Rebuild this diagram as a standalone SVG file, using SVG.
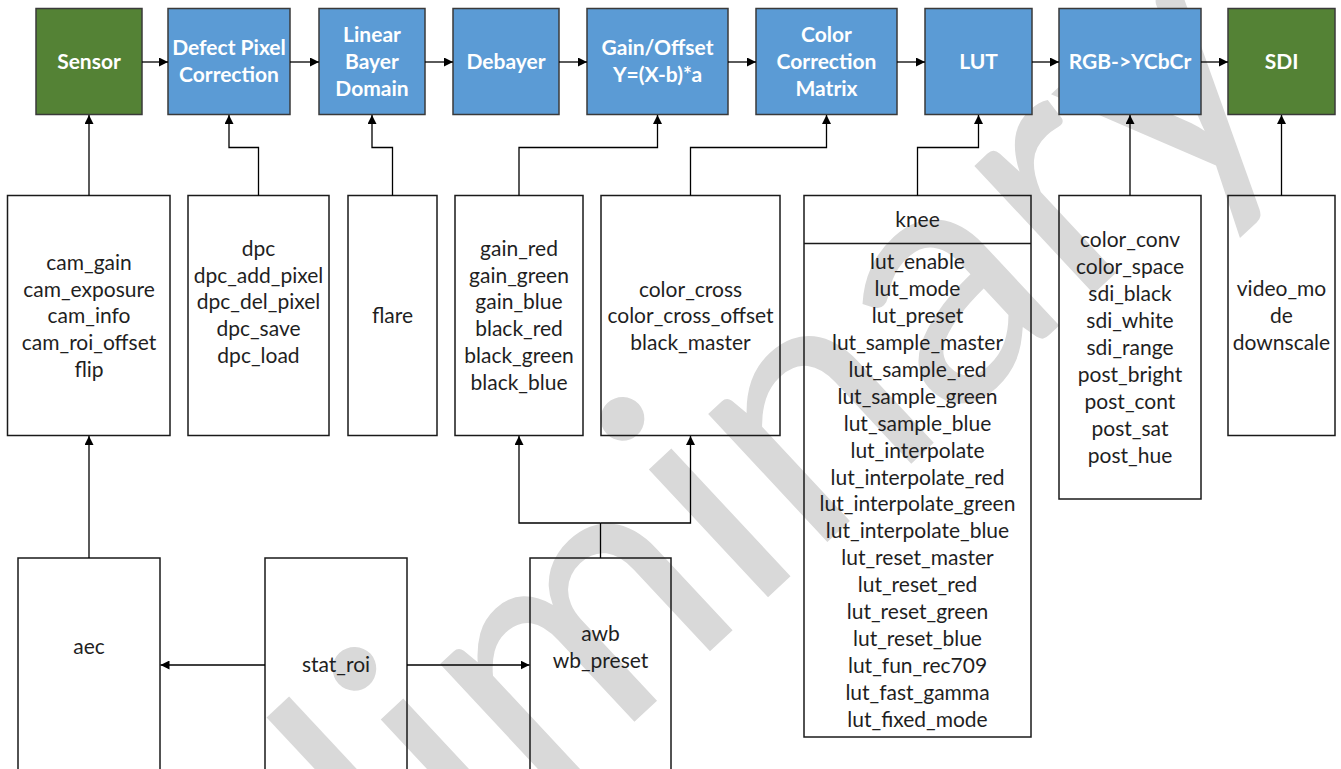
<svg xmlns="http://www.w3.org/2000/svg" width="1341" height="769" viewBox="0 0 1341 769">
<defs>
<marker id="ah" viewBox="0 0 10 10" refX="10" refY="5" markerWidth="9" markerHeight="9" markerUnits="userSpaceOnUse" orient="auto"><path d="M0,0 L10,5 L0,10 z" fill="#000"/></marker>
<style>
.blue{fill:#5b9bd5;stroke:#3a3a3a;stroke-width:1.5}
.green{fill:#548235;stroke:#3a3a3a;stroke-width:1.5}
.box{fill:none;stroke:#1a1a1a;stroke-width:1.5}
.hd{font-family:Lato,"Open Sans",sans-serif;font-weight:bold;font-size:21px;fill:#fff;text-anchor:middle}
.tx{font-family:Lato,"Open Sans",sans-serif;font-size:21px;fill:#1f1f1f;text-anchor:middle}
.wm{font-family:Lato,"Open Sans",sans-serif;font-size:345px;fill:#d9d9d9;text-anchor:middle}
.cn{fill:none;stroke:#000;stroke-width:1.3;marker-end:url(#ah)}
.ln{fill:none;stroke:#000;stroke-width:1.3}
</style>
</defs>
<rect width="1341" height="769" fill="#fff"/>
<text class="wm" transform="translate(675,684) rotate(-43)">Preliminary</text>

<g id="sensor"><rect class="green" x="36" y="8.5" width="106" height="106"/><text class="hd" x="89" y="69">Sensor</text></g>
<g id="dpc_block"><rect class="blue" x="168" y="8.5" width="122" height="106"/><text class="hd" x="229" y="55">Defect Pixel</text><text class="hd" x="229" y="82">Correction</text></g>
<g id="linear"><rect class="blue" x="319" y="8.5" width="106" height="106"/><text class="hd" x="372" y="42">Linear</text><text class="hd" x="372" y="69">Bayer</text><text class="hd" x="372" y="96">Domain</text></g>
<g id="debayer"><rect class="blue" x="453" y="8.5" width="106" height="106"/><text class="hd" x="506" y="69">Debayer</text></g>
<g id="gainoffset"><rect class="blue" x="587" y="8.5" width="141" height="106"/><text class="hd" x="657.5" y="55">Gain/Offset</text><text class="hd" x="657.5" y="82">Y=(X-b)*a</text></g>
<g id="ccm"><rect class="blue" x="756" y="8.5" width="141" height="106"/><text class="hd" x="826.5" y="42">Color</text><text class="hd" x="826.5" y="69">Correction</text><text class="hd" x="826.5" y="96">Matrix</text></g>
<g id="lut"><rect class="blue" x="925" y="8.5" width="107" height="106"/><text class="hd" x="978.5" y="69">LUT</text></g>
<g id="rgb2ycbcr"><rect class="blue" x="1059" y="8.5" width="142" height="106"/><text class="hd" x="1130" y="69">RGB-&gt;YCbCr</text></g>
<g id="sdi"><rect class="green" x="1228" y="8.5" width="107" height="106"/><text class="hd" x="1281.5" y="69">SDI</text></g>

<g id="cam_params"><rect class="box" x="7.5" y="195.5" width="162.5" height="240"/>
<text class="tx" x="89" y="270">cam_gain</text><text class="tx" x="89" y="296.5">cam_exposure</text><text class="tx" x="89" y="323">cam_info</text><text class="tx" x="89" y="350">cam_roi_offset</text><text class="tx" x="89" y="376.5">flip</text></g>
<g id="dpc_params"><rect class="box" x="188" y="195.5" width="141" height="240"/>
<text class="tx" x="258.5" y="256">dpc</text><text class="tx" x="258.5" y="282.5">dpc_add_pixel</text><text class="tx" x="258.5" y="309">dpc_del_pixel</text><text class="tx" x="258.5" y="336">dpc_save</text><text class="tx" x="258.5" y="363">dpc_load</text></g>
<g id="flare_params"><rect class="box" x="348" y="195.5" width="89" height="240"/>
<text class="tx" x="392.5" y="323">flare</text></g>
<g id="gain_params"><rect class="box" x="455" y="195.5" width="128" height="240"/>
<text class="tx" x="519" y="256">gain_red</text><text class="tx" x="519" y="282.5">gain_green</text><text class="tx" x="519" y="309">gain_blue</text><text class="tx" x="519" y="336">black_red</text><text class="tx" x="519" y="363">black_green</text><text class="tx" x="519" y="390">black_blue</text></g>
<g id="ccm_params"><rect class="box" x="601" y="195.5" width="179" height="240"/>
<text class="tx" x="690.5" y="296.5">color_cross</text><text class="tx" x="690.5" y="323">color_cross_offset</text><text class="tx" x="690.5" y="350">black_master</text></g>
<g id="knee_params"><rect class="box" x="804" y="195.5" width="227" height="541.5"/><line x1="804" y1="243.5" x2="1031" y2="243.5" stroke="#1a1a1a" stroke-width="1.5"/>
<text class="tx" x="917.5" y="227">knee</text>
<text class="tx" x="917.5" y="269">lut_enable</text>
<text class="tx" x="917.5" y="296">lut_mode</text>
<text class="tx" x="917.5" y="323">lut_preset</text>
<text class="tx" x="917.5" y="350">lut_sample_master</text>
<text class="tx" x="917.5" y="377">lut_sample_red</text>
<text class="tx" x="917.5" y="403.5">lut_sample_green</text>
<text class="tx" x="917.5" y="430.5">lut_sample_blue</text>
<text class="tx" x="917.5" y="457.5">lut_interpolate</text>
<text class="tx" x="917.5" y="484.5">lut_interpolate_red</text>
<text class="tx" x="917.5" y="511">lut_interpolate_green</text>
<text class="tx" x="917.5" y="538">lut_interpolate_blue</text>
<text class="tx" x="917.5" y="565">lut_reset_master</text>
<text class="tx" x="917.5" y="592">lut_reset_red</text>
<text class="tx" x="917.5" y="619">lut_reset_green</text>
<text class="tx" x="917.5" y="646">lut_reset_blue</text>
<text class="tx" x="917.5" y="672.5">lut_fun_rec709</text>
<text class="tx" x="917.5" y="699.5">lut_fast_gamma</text>
<text class="tx" x="917.5" y="726.5">lut_fixed_mode</text></g>
<g id="post_params"><rect class="box" x="1059" y="195.5" width="142" height="303.5"/>
<text class="tx" x="1130" y="247">color_conv</text><text class="tx" x="1130" y="274">color_space</text><text class="tx" x="1130" y="301">sdi_black</text><text class="tx" x="1130" y="328">sdi_white</text><text class="tx" x="1130" y="355">sdi_range</text><text class="tx" x="1130" y="382">post_bright</text><text class="tx" x="1130" y="409">post_cont</text><text class="tx" x="1130" y="436">post_sat</text><text class="tx" x="1130" y="463">post_hue</text></g>
<g id="video_params"><rect class="box" x="1228" y="195.5" width="107" height="240"/>
<text class="tx" x="1281.5" y="296">video_mo</text><text class="tx" x="1281.5" y="323">de</text><text class="tx" x="1281.5" y="350">downscale</text></g>

<g id="aec"><rect class="box" x="18" y="558" width="142" height="215"/><text class="tx" x="89" y="654">aec</text></g>
<g id="stat_roi"><rect class="box" x="265" y="558" width="142" height="215"/><text class="tx" x="336" y="672">stat_roi</text></g>
<g id="awb"><rect class="box" x="530" y="558" width="141" height="215"/><text class="tx" x="600.5" y="641">awb</text><text class="tx" x="600.5" y="668">wb_preset</text></g>

<g id="connectors">
<line class="cn" x1="142" y1="62" x2="168" y2="62"/>
<line class="cn" x1="290" y1="62" x2="319" y2="62"/>
<line class="cn" x1="425" y1="62" x2="453" y2="62"/>
<line class="cn" x1="559" y1="62" x2="587" y2="62"/>
<line class="cn" x1="728" y1="62" x2="756" y2="62"/>
<line class="cn" x1="897" y1="62" x2="925" y2="62"/>
<line class="cn" x1="1032" y1="62" x2="1059" y2="62"/>
<line class="cn" x1="1201" y1="62" x2="1228" y2="62"/>
<line class="cn" x1="89" y1="195.5" x2="89" y2="115"/>
<polyline class="cn" points="258.5,195.5 258.5,147.5 229,147.5 229,115"/>
<polyline class="cn" points="392.5,195.5 392.5,147.5 372,147.5 372,115"/>
<polyline class="cn" points="519,195.5 519,147.5 657.5,147.5 657.5,115"/>
<polyline class="cn" points="690.5,195.5 690.5,147.5 826.5,147.5 826.5,115"/>
<polyline class="cn" points="917.5,195.5 917.5,147.5 978.5,147.5 978.5,115"/>
<line class="cn" x1="1130" y1="195.5" x2="1130" y2="115"/>
<line class="cn" x1="1281.5" y1="195.5" x2="1281.5" y2="115"/>
<line class="cn" x1="89" y1="558" x2="89" y2="436"/>
<line class="ln" x1="600.5" y1="558" x2="600.5" y2="523"/>
<polyline class="cn" points="600.5,523 519,523 519,436"/>
<polyline class="cn" points="600.5,523 690.5,523 690.5,436"/>
<line class="cn" x1="265" y1="665" x2="160.5" y2="665"/>
<line class="cn" x1="407" y1="665" x2="529.5" y2="665"/>
</g>
</svg>
